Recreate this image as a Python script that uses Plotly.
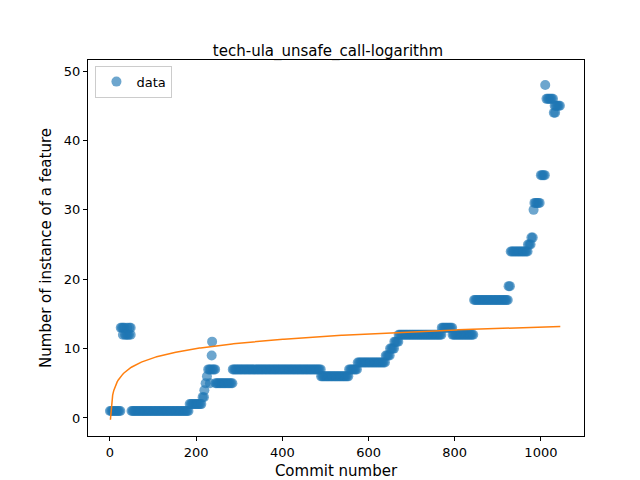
import numpy as np
import plotly.graph_objects as go

# step segments: commit start, commit end, feature count
seg_start = [0, 25, 35, 45, 50, 185, 215, 219, 222, 225, 228, 236, 238, 245, 285, 490, 555, 575, 640, 650, 660, 670, 770, 795, 845, 925, 930, 970, 978, 983, 985, 1000, 1010, 1013, 1030, 1035]
seg_end   = [25, 35, 45, 50, 185, 215, 219, 222, 225, 228, 236, 238, 245, 285, 490, 555, 575, 640, 650, 660, 670, 770, 795, 845, 925, 930, 970, 978, 983, 985, 1000, 1010, 1013, 1030, 1035, 1046]
seg_value = [1, 13, 12, 13, 1, 2, 3, 4, 5, 6, 7, 9, 7, 5, 7, 6, 7, 8, 9, 10, 11, 12, 13, 12, 17, 19, 24, 25, 26, 30, 31, 35, 48, 46, 44, 45]
extra_x = [30, 40, 48, 232, 237, 1032]
extra_y = [12, 13, 12, 5, 11, 45]

xs, ys = [], []
for s, e, v in zip(seg_start, seg_end, seg_value):
    for i in range(s, e, 3):
        xs.append(i); ys.append(v)
xs += extra_x; ys += extra_y

fit_a, fit_b = 1.935, -0.25
fx = np.linspace(1, 1045, 400)
fy = fit_a * np.log(fx) + fit_b

fig = go.Figure()
fig.add_trace(go.Scatter(x=xs, y=ys, mode="markers", name="data",
                         marker=dict(color="#1f77b4", size=10, opacity=0.65, line=dict(width=0))))
fig.add_trace(go.Scatter(x=fx, y=fy, mode="lines", showlegend=False,
                         line=dict(color="#ff7f0e", width=1.5)))
ax = dict(showgrid=False, zeroline=False, showline=True, mirror=True, linecolor="black", automargin=False,
          ticks="outside", ticklen=4, tickcolor="black", tickfont=dict(size=13, color="black"))
fig.update_layout(
    width=640, height=480, paper_bgcolor="white", plot_bgcolor="white",
    margin=dict(l=80, r=64, t=52, b=52, autoexpand=False),
    font=dict(family="DejaVu Sans", color="black"),
    title=dict(text="tech-ula_unsafe_call-logarithm", x=0.5, xanchor="center", yref="container",
               y=1 - 43/480, yanchor="middle", font=dict(size=15)),
    xaxis=dict(ax, range=[-51, 1100], tickvals=[0, 200, 400, 600, 800, 1000],
               title=dict(text="Commit number", font=dict(size=15), standoff=6)),
    yaxis=dict(ax, range=[-2.6, 51.6], tickvals=[0, 10, 20, 30, 40, 50],
               title=dict(text="Number of instance of a feature", font=dict(size=15), standoff=8)),
    legend=dict(x=0.015, y=0.985, xanchor="left", yanchor="top", bordercolor="#ccc", borderwidth=1,
                font=dict(size=13)),
)
fig.write_html("out.html")
